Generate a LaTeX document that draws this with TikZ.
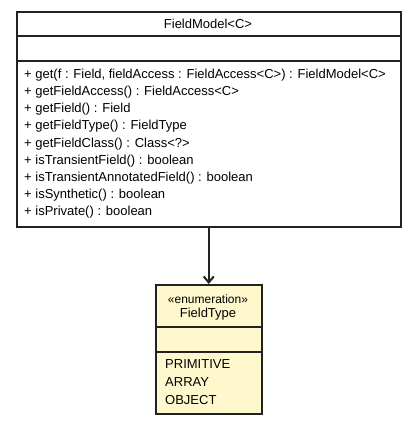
\documentclass[tikz,border=0pt]{standalone}
\usepackage{fontspec}
\setmainfont{Liberation Sans}
\usetikzlibrary{arrows.meta, positioning}

\definecolor{enumfill}{HTML}{FFF8CC}
\definecolor{umlline}{HTML}{222222}

\begin{document}
\begin{tikzpicture}[x=1pt, y=-1pt, font=\fontsize{13}{17.1}\selectfont]
        % Setup the styles for the boxes and texts
        \tikzset{class box/.style={draw=umlline,
                                   line width=1.5pt,
                                   rectangle,
                                   inner sep=0pt,
                                   anchor=north west},
                 member text/.style={align=left,
                                     inner sep=0pt,
                                     anchor=north west}}
        \useasboundingbox (0,0) rectangle (416,423);

        % Draw the class FieldModel
        \node[class box, minimum width=384pt, minimum height=215pt,
              fill=white] at (16,11) (model) {};
        \draw[umlline, line width=1.5pt] (16,36) -- (400,36)
                                          (16,61) -- (400,61);
        \node[inner sep=0pt] at (208,24) (modelname) {FieldModel<C>};
        \node[member text] at (24,69) (modelops) {%
            + get(f : Field, fieldAccess : FieldAccess<C>) : FieldModel<C>\\
            + getFieldAccess() : FieldAccess<C>\\
            + getField() : Field\\
            + getFieldType() : FieldType\\
            + getFieldClass() : Class<?>\\
            + isTransientField() : boolean\\
            + isTransientAnnotatedField() : boolean\\
            + isSynthetic() : boolean\\
            + isPrivate() : boolean};

        % Draw the enumeration FieldType
        \node[class box, minimum width=106pt, minimum height=129pt,
              fill=enumfill] at (155,284) (ftype) {};
        \draw[umlline, line width=1.5pt] (155,327) -- (261,327)
                                          (155,352) -- (261,352);
        \node[inner sep=0pt, font=\fontsize{12}{12}\selectfont]
            at (208,299) (stereo) {«enumeration»};
        \node[inner sep=0pt] at (208,314) (ftypename) {FieldType};
        \node[member text, font=\fontsize{13}{18}\selectfont]
            at (165,359) (ftypevals) {PRIMITIVE\\ARRAY\\OBJECT};

        % Connect the boxes
        \draw[umlline, line width=1.5pt, -{Straight Barb[length=6pt, width=10pt, line width=2pt]}]
            (model.south) -- (ftype.north);
\end{tikzpicture}
\end{document}
